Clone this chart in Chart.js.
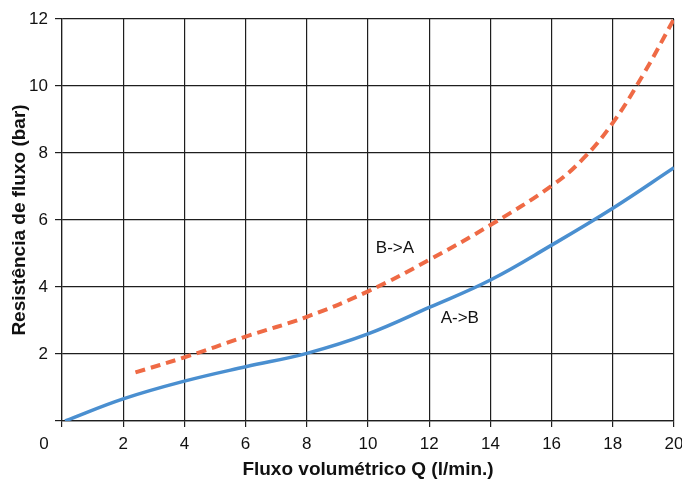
<!DOCTYPE html>
<html>
<head>
<meta charset="utf-8">
<script src="https://cdn.jsdelivr.net/npm/chart.js@4/dist/chart.umd.min.js"></script>
<style>
  html, body { margin: 0; padding: 0; background: #fff; }
  #wrap { width: 682px; height: 481px; }
</style>
</head>
<body>
<div id="wrap"><canvas id="flowChart"></canvas></div>
<script>
// A->B curve
var flowAB = [0.1, 2, 4, 6, 8, 10, 12, 14, 16, 18, 20];
var resistAB = [0, 0.66, 1.19, 1.62, 2.02, 2.6, 3.39, 4.21, 5.25, 6.35, 7.56];

// B->A curve
var flowBA = [2.4, 4, 6, 8, 10, 12, 14, 16, 17, 18, 19, 20];
var resistBA = [1.45, 1.9, 2.52, 3.11, 3.87, 4.81, 5.85, 7.02, 7.8, 8.9, 10.35, 12];

var xTicks = [0, 2, 4, 6, 8, 10, 12, 14, 16, 18, 20];
var yTicks = [0, 2, 4, 6, 8, 10, 12];

var tickFont = { family: 'Liberation Sans, Arial, sans-serif', size: 17 };
var titleFont = { family: 'Liberation Sans, Arial, sans-serif', size: 19, weight: 'bold' };
var gridColor = '#1e1e1e';

function toPoints(xs, ys) {
    return xs.map(function (x, i) { return { x: x, y: ys[i] }; });
}

// curve labels and the lone "0" at the origin
var extraText = {
    id: 'extraText',
    afterDatasetsDraw: function (chart) {
        var ctx = chart.ctx;
        var xs = chart.scales.x, ys = chart.scales.y;
        ctx.save();
        ctx.fillStyle = '#111';
        ctx.font = '17px "Liberation Sans", Arial, sans-serif';
        ctx.textAlign = 'center';
        ctx.textBaseline = 'middle';
        ctx.fillText('B->A', xs.getPixelForValue(10.88), ys.getPixelForValue(5.16));
        ctx.fillText('A->B', xs.getPixelForValue(13.0), ys.getPixelForValue(3.07));
        ctx.fillText('0', xs.getPixelForValue(0) - 18, ys.bottom + 23);
        ctx.restore();
    }
};

new Chart(document.getElementById('flowChart'), {
    type: 'line',
    data: {
        datasets: [{
            label: 'A->B',
            data: toPoints(flowAB, resistAB),
            borderColor: '#4a8fd0',
            borderWidth: 3.5,
            pointRadius: 0,
            fill: false,
            tension: 0.4
        }, {
            label: 'B->A',
            data: toPoints(flowBA, resistBA),
            borderColor: '#ef6a45',
            borderWidth: 4,
            borderDash: [10, 6],
            pointRadius: 0,
            fill: false,
            tension: 0.4
        }]
    },
    options: {
        responsive: true,
        maintainAspectRatio: false,
        animation: false,
        layout: { padding: { top: 19, right: 8, left: 0, bottom: 0 } },
        plugins: {
            legend: { display: false },
            tooltip: { enabled: false }
        },
        scales: {
            x: {
                type: 'linear',
                min: 0,
                max: 20,
                afterBuildTicks: function (scale) {
                    scale.ticks = xTicks.map(function (v) { return { value: v }; });
                },
                afterFit: function (scale) {
                    scale.height = 60;
                    scale.paddingLeft = 0;
                    scale.paddingRight = 0;
                },
                ticks: {
                    font: tickFont,
                    color: '#111',
                    padding: 7,
                    maxRotation: 0,
                    callback: function (v) { return v === 0 ? '' : v; }
                },
                grid: { color: gridColor, lineWidth: 1.2, tickLength: 6 },
                border: { color: gridColor, width: 1.2 },
                title: {
                    display: true,
                    text: 'Fluxo volumétrico Q (l/min.)',
                    font: titleFont,
                    color: '#111',
                    padding: { top: 0, bottom: 0 }
                }
            },
            y: {
                min: 0,
                max: 12,
                afterBuildTicks: function (scale) {
                    scale.ticks = yTicks.map(function (v) { return { value: v }; });
                },
                afterFit: function (scale) {
                    scale.width = 62;
                    scale.paddingTop = 0;
                    scale.paddingBottom = 0;
                },
                ticks: {
                    font: tickFont,
                    color: '#111',
                    padding: 7,
                    callback: function (v) { return v === 0 ? '' : v; }
                },
                grid: { color: gridColor, lineWidth: 1.2, tickLength: 7 },
                border: { color: gridColor, width: 1.2 },
                title: {
                    display: true,
                    text: 'Resistência de fluxo (bar)',
                    font: titleFont,
                    color: '#111',
                    padding: { top: 8, bottom: 0 }
                }
            }
        }
    },
    plugins: [extraText]
});
</script>
</body>
</html>
